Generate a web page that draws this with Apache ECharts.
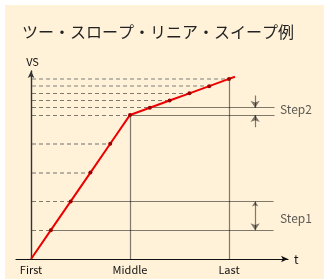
<!DOCTYPE html>
<html>
<head>
<meta charset="utf-8">
<script src="https://cdn.jsdelivr.net/npm/echarts@6/dist/echarts.min.js"></script>
<style>
	html, body {
		margin: 0;
		padding: 0;
		background: #fff;
	}
	#chart {
		width: 324px;
		height: 279px;
	}
</style>
</head>
<body>
<div id="chart"></div>
<script>
// sweep points: time step index and output level
const tIdx = [0, 1, 2, 3, 4, 5, 6, 7, 8, 9, 10]
const vs = [0, 4, 8, 12, 16, 20, 21, 22, 23, 24, 25]
// small overshoot of the red line past the last point
const tailT = [10, 10.3]
const tailVs = [25, 25.3]

const tickValues = [0, 5, 10]
const tickLabels = ["First", "Middle", "Last"]

const stepNames = ["Step2", "Step1"]
const stepLabelPos = [[12.55, 20.7], [12.55, 5.7]]

const font = "'Noto Sans CJK JP', 'Noto Sans', sans-serif"
const ink = "#111"

// dashed guide from the VS axis to each point
const guide = i => ({ coords: [[0.05, vs[i]], [tIdx[i], vs[i]]] })

let grayDash = [guide(10), guide(9)]
let darkDash = [guide(4), guide(3)]
let blackDash = [guide(8), guide(7), guide(6), guide(5), guide(2), guide(1)]

let solid = [
	{ coords: [[tIdx[5], vs[5]], [12.3, vs[5]]] },
	{ coords: [[tIdx[6], vs[6]], [12.3, vs[6]]] },
	{ coords: [[tIdx[1], vs[1]], [12.25, vs[1]]] },
	{ coords: [[tIdx[2], vs[2]], [12.25, vs[2]]] },
	{ coords: [[tIdx[5], 0], [tIdx[5], vs[5]]] },
	{ coords: [[tIdx[10], 0], [tIdx[10], vs[10]]] }
]

let arrows = [
	{ coords: [[11.32, 22.7], [11.32, vs[6]]], symbol: ["none", "arrow"] },
	{ coords: [[11.32, 18.3], [11.32, vs[5]]], symbol: ["none", "arrow"] },
	{ coords: [[11.32, vs[2]], [11.32, vs[1]]], symbol: ["arrow", "arrow"] }
]

let redData = tIdx.map((t, i) => ({ value: [t, vs[i]], symbolSize: i === 0 ? 0 : 4 }))
redData.push({ value: [tailT[1], tailVs[1]], symbolSize: 0 })

let option = {
	animation: false,
	backgroundColor: "#fff",
	textStyle: { fontFamily: font },
	graphic: [
		{
			type: "rect",
			left: 5,
			top: 5,
			shape: { width: 319, height: 274 },
			style: { fill: "#FFF2D8" },
			z: -10
		}
	],
	title: {
		text: "ツー・スロープ・リニア・スイープ例",
		left: 22,
		top: 24,
		padding: 0,
		textStyle: { fontSize: 16, fontWeight: "normal", color: "#222", fontFamily: font }
	},
	grid: {
		left: 16,
		right: 36,
		top: 71,
		bottom: 20
	},
	xAxis: {
		type: "value",
		min: -0.76,
		max: 12.98,
		name: "t",
		nameLocation: "end",
		nameGap: 6,
		nameTextStyle: { fontSize: 12, color: ink, verticalAlign: "middle" },
		axisLine: {
			show: true,
			symbol: ["none", "arrow"],
			symbolSize: [5, 7],
			lineStyle: { color: ink, width: 1.2 }
		},
		axisTick: { show: false },
		splitLine: { show: false },
		axisLabel: {
			show: true,
			customValues: tickValues,
			margin: 5,
			fontSize: 11,
			color: ink,
			formatter: v => tickLabels[tickValues.indexOf(v)] || ""
		}
	},
	yAxis: {
		type: "value",
		min: 0,
		max: 26.1,
		name: "VS",
		nameLocation: "end",
		nameGap: 4,
		nameTextStyle: { fontSize: 11, color: ink, align: "center", padding: [0, 0, 0, 3] },
		axisLine: {
			show: true,
			onZero: true,
			symbol: ["none", "arrow"],
			symbolSize: [5, 7],
			lineStyle: { color: "#333", width: 1.4 }
		},
		axisTick: { show: false },
		axisLabel: { show: false },
		splitLine: { show: false }
	},
	series: [
		{
			type: "lines",
			coordinateSystem: "cartesian2d",
			silent: true,
			lineStyle: { color: "#7d7d7d", width: 2, type: [4, 3] },
			data: grayDash
		},
		{
			type: "lines",
			coordinateSystem: "cartesian2d",
			silent: true,
			lineStyle: { color: "#444", width: 1.5, type: [4, 3] },
			data: darkDash
		},
		{
			type: "lines",
			coordinateSystem: "cartesian2d",
			silent: true,
			lineStyle: { color: "#000", width: 1.2, type: [4, 3] },
			data: blackDash
		},
		{
			type: "lines",
			coordinateSystem: "cartesian2d",
			silent: true,
			lineStyle: { color: "#000", width: 1.2, type: "solid" },
			data: solid
		},
		{
			type: "lines",
			coordinateSystem: "cartesian2d",
			silent: true,
			symbolSize: [5, 7],
			lineStyle: { color: "#000", width: 1.2 },
			data: arrows
		},
		{
			type: "line",
			silent: true,
			symbol: "circle",
			itemStyle: { color: "#a00000" },
			lineStyle: { color: "#ee0000", width: 2 },
			data: redData,
			z: 5
		},
		{
			type: "scatter",
			silent: true,
			symbolSize: 1,
			itemStyle: { color: "rgba(0,0,0,0)" },
			label: {
				show: true,
				position: "right",
				distance: 0,
				fontSize: 12,
				color: "#333",
				formatter: p => p.name
			},
			data: stepNames.map((n, i) => ({ name: n, value: stepLabelPos[i] }))
		}
	]
}

let chart = echarts.init(document.getElementById("chart"))
chart.setOption(option)
</script>
</body>
</html>
